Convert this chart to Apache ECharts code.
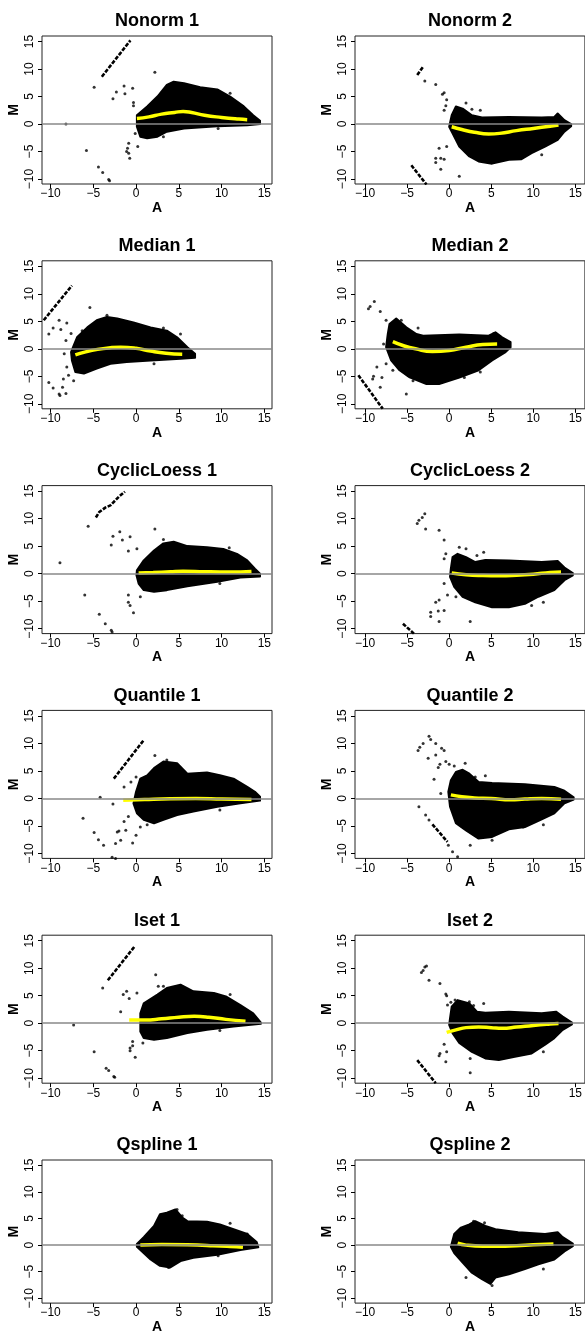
<!DOCTYPE html>
<html>
<head>
<meta charset="utf-8">
<script src="https://cdn.jsdelivr.net/npm/echarts@6/dist/echarts.min.js"></script>
<style>html,body{margin:0;padding:0;background:#fff}#main{width:585px;height:1335px}</style>
</head>
<body>
<div id="main"></div>
<script>
var tickValues = [-10, -5, 0, 5, 10, 15];
var titles = ['Nonorm 1', 'Nonorm 2', 'Median 1', 'Median 2', 'CyclicLoess 1', 'CyclicLoess 2',
    'Quantile 1', 'Quantile 2', 'Iset 1', 'Iset 2', 'Qspline 1', 'Qspline 2'];

// each panel: upper and lower edge of the dense cloud, loose points, streaks of points, loess curve (A, M)
var nonorm1Top = [[0.1,1.6],[1.3,3.2],[2.5,5.0],[3.6,7.1],[4.4,7.7],[5.6,7.4],[7.5,6.7],[9.5,6.3],[11.0,5.0],[12.6,3.2],[13.7,1.6],[14.5,0.6]];
var nonorm1Bottom = [[14.5,0],[13,-0.2],[9.5,-0.4],[5.6,-0.8],[3.6,-1.4],[2.5,-2.3],[1.3,-2.6],[0.5,-2.3],[0.1,-0.5]];
var nonorm1Dots = [[-8.2,0],[-4.9,6.7],[-5.8,-4.8],[-4.4,-7.8],[-3.9,-8.8],[-3.2,-10.1],[-3.1,-10.3],[-2.7,4.6],[-2.3,5.8],[-1.4,6.9],[-1.3,5.5],[-0.4,6.5],[-0.86,-3.5],[-1.0,-4.4],[-1.1,-5.0],[-0.86,-5.3],[-0.74,-6.2],[-0.3,3.9],[-0.3,3.3],[2.2,9.4],[-0.1,-1.7],[0.2,-4.1],[3.2,-2.3],[9.6,-0.8],[11.0,5.6]];
var nonorm1Streaks = [[[-4.0,8.6],[-0.66,15.2]]];
var nonorm1Loess = [[0.1,1.0],[1.5,1.3],[3,1.8],[4.5,2.1],[5.5,2.3],[6.5,2.1],[8,1.6],[10,1.2],[12,0.9],[13,0.8]];

var nonorm2Top = [[0.3,1.6],[0.8,3.2],[1.6,2.8],[2.7,1.6],[3.9,1.2],[7.1,1.3],[11,1.2],[12.5,1.3],[12.9,1.9],[13.7,0.7],[14.5,0]];
var nonorm2Bottom = [[14.5,-0.4],[13.7,-1.4],[12.9,-2.9],[11.4,-4.1],[9.8,-5.3],[8.6,-6.4],[7.1,-6.5],[5.1,-7.2],[3.5,-6.8],[2.4,-5.9],[1.2,-4.1],[0.4,-1.7],[0,-0.5]];
var nonorm2Dots = [[-2.9,7.8],[-1.6,7.2],[-0.8,5.4],[-0.6,5.7],[-0.4,3.3],[-0.6,2.5],[-0.3,4.4],[-1.2,-4.4],[-1.0,-6.2],[-0.6,-6.4],[-1.6,-6.2],[-1.6,-7.0],[-1.0,-8.2],[1.2,-9.5],[-0.3,-4.1],[2.0,3.8],[2.7,2.7],[3.7,2.5],[7.3,-5.3],[11,-5.6],[14.1,-0.6]];
var nonorm2Streaks = [[[-3.8,8.9],[-3.1,10.4]], [[-4.5,-7.5],[-2.7,-11]]];
var nonorm2Loess = [[0.3,-0.5],[1.5,-1.0],[3,-1.5],[4.7,-1.8],[6,-1.7],[8,-1.2],[10,-0.8],[12,-0.4],[13,-0.2]];

var median1Top = [[-7.3,0.6],[-6.9,2.1],[-5.7,3.9],[-4.6,5.2],[-3.4,5.8],[-2.2,5.5],[-0.3,4.8],[1.7,3.9],[3.6,3.3],[4.8,2.1],[6.0,0.3],[6.9,-0.9]];
var median1Bottom = [[6.9,-1.6],[5.2,-1.8],[1.7,-2.1],[-1.1,-2.4],[-3.0,-2.7],[-4.6,-3.6],[-6.1,-4.5],[-7.1,-4.2],[-7.5,-2.1],[-7.6,-0.6]];
var median1Dots = [[-10.2,2.7],[-9.7,3.8],[-9.0,5.2],[-8.8,3.5],[-8.1,4.7],[-7.6,2.8],[-8.2,1.5],[-10.2,-6.1],[-9.7,-7.1],[-9.0,-8.2],[-8.9,-8.5],[-8.6,-7.0],[-8.5,-5.5],[-8.2,-8.1],[-8.4,-0.9],[-8.1,-3.3],[-7.9,-4.8],[-7.3,-5.8],[-5.4,7.5],[-6.3,3.3],[-3.4,6.1],[3.2,3.8],[2.1,-2.7],[5.2,2.7]];
var median1Streaks = [[[-10.8,5.2],[-7.5,11.5]]];
var median1Loess = [[-7.1,-1.1],[-6,-0.6],[-4.5,-0.1],[-3,0.2],[-1.8,0.3],[0,0.1],[1.7,-0.4],[3.5,-0.8],[5.4,-1.0]];

var median2Top = [[-7.3,2.7],[-7.1,4.5],[-6.3,5.5],[-5.1,3.9],[-3.9,2.7],[-3.1,2.4],[1.2,2.6],[4.7,2.4],[5.5,3.0],[6.3,2.1],[7.3,1.2]];
var median2Bottom = [[7.3,0.3],[6.7,-0.6],[5.1,-2.1],[3.5,-3.9],[1.2,-5.2],[-1.2,-6.4],[-2.7,-6.4],[-4.7,-5.2],[-5.9,-3.9],[-6.9,-2.1],[-7.5,0.3]];
var median2Dots = [[-9.6,7.3],[-9.4,7.7],[-8.9,8.6],[-8.2,6.8],[-7.5,5.2],[-7.8,0.9],[-9.0,-5.0],[-9.1,-5.5],[-8.0,-5.2],[-8.2,-7.0],[-8.6,-3.3],[-7.5,-2.7],[-6.7,-3.9],[-5.1,-8.2],[-5.7,5.2],[-3.7,3.8],[3.7,-4.2],[5.3,2.8],[1.8,-5.2],[-4.3,-5.8]];
var median2Streaks = [[[-10.8,-4.8],[-7.9,-10.9]]];
var median2Loess = [[-6.7,1.3],[-5.5,0.6],[-4,0],[-2,-0.5],[0,-0.3],[2,0.3],[4,0.8],[5.7,0.9]];

var cyclic1Top = [[0.1,0.6],[0.9,2.4],[2.1,4.2],[3.2,5.5],[4.4,5.8],[6.0,5.0],[8.3,4.8],[10.2,4.5],[11.8,3.6],[13.0,2.4],[13.9,0.9],[14.5,0]];
var cyclic1Bottom = [[14.5,-0.5],[12.2,-0.7],[9.5,-1.5],[6.0,-2.3],[3.6,-3.0],[2.1,-3.3],[0.9,-3.0],[0.3,-1.8],[0.05,-0.3]];
var cyclic1Dots = [[-8.9,2],[-6,-3.9],[-5.6,8.6],[-4.3,-7.4],[-3.6,-9.1],[-2.9,-10.3],[-2.8,-10.6],[-2.7,6.8],[-2.9,5.2],[-1.9,7.6],[-1.6,6.1],[-0.7,6.7],[-0.9,4.1],[-0.9,-3.9],[-0.9,-5.2],[-0.7,-5.8],[-0.3,-7.1],[0.1,4.5],[2.2,8.1],[3.2,6.2],[0.5,-4.2],[9.8,-1.8],[10.9,4.7]];
var cyclic1Streaks = [[[-4.7,10.2],[-4.3,11.2],[-3.6,12],[-3,12.4],[-2,14],[-1.3,14.9]]];
var cyclic1Loess = [[0.3,0.1],[2,0.2],[4,0.35],[5.5,0.45],[8,0.35],[11,0.3],[13.5,0.4]];

var cyclic2Top = [[0.2,0.9],[0.4,3.0],[1.0,3.6],[2.0,3.0],[3.1,2.1],[4.3,2.5],[7.1,2.4],[11,2.1],[12.9,2.3],[13.7,1.1],[14.7,0.1]];
var cyclic2Bottom = [[14.7,-0.3],[13.7,-1.2],[12.5,-3.0],[10.6,-4.2],[9.0,-5.5],[7.1,-6.1],[5.1,-6.1],[3.1,-5.2],[1.6,-4.2],[0.6,-2.4],[0.1,-0.6]];
var cyclic2Dots = [[-3.8,9.1],[-3.6,9.7],[-3.2,10.2],[-2.9,10.9],[-2.8,8.1],[-1.2,7.9],[-0.6,6.1],[-0.4,3.6],[-0.6,2.7],[1.2,4.8],[2,4.5],[3.3,3.3],[4.1,3.9],[-0.6,-1.8],[-1.2,-4.8],[-1.6,-5.2],[-2.2,-7],[-2.2,-7.8],[-1.3,-6.8],[-1.2,-8.7],[-0.6,-6.7],[2.5,-8.7],[9.8,-5.8],[11.2,-5.2],[-0.2,-3.9],[0.8,-4.2]];
var cyclic2Streaks = [[[-5.5,-9.1],[-4.2,-10.9]]];
var cyclic2Loess = [[0.3,0.1],[2,-0.2],[4,-0.35],[6,-0.4],[8,-0.3],[10,-0.1],[12,0.2],[13.3,0.3]];

var quantile1Top = [[0,1.2],[0.5,3.6],[1.3,4.2],[2.1,5.5],[3.2,6.7],[4.8,6.4],[6.0,4.5],[8.3,4.7],[9.8,4.2],[11.4,3.6],[13.0,2.1],[13.9,1.2],[14.5,0.3]];
var quantile1Bottom = [[14.5,-0.4],[12.2,-0.9],[9.5,-1.5],[6.7,-2.4],[4.8,-3.0],[3.2,-3.9],[2.1,-4.5],[0.9,-3.9],[0.1,-2.7],[-0.3,-0.9]];
var quantile1Dots = [[-6.2,-3.6],[-4.9,-6.2],[-4.4,-7.5],[-4.2,0.2],[-3.8,-8.5],[-2.8,-10.7],[-2.4,-10.9],[-2.7,-1],[-2.4,-8.2],[-2.2,-6.1],[-2,-5.9],[-1.8,-7.6],[-1.4,-4.2],[-1.4,2.1],[-1.2,-5.8],[-0.9,-3.3],[-0.4,-8.1],[0,-6.7],[-0.6,3],[0,3.9],[2.2,7.8],[3.6,7],[9.8,-2.1],[13,1.5],[0.5,-5.2],[1.3,-4.8]];
var quantile1Streaks = [[[-2.6,3.6],[0.9,10.6]]];
var quantile1Loess = [[-1.5,-0.35],[1,-0.2],[4,-0.05],[7,0],[10,-0.1],[13.5,-0.2]];

var quantile2Top = [[-0.1,1.2],[0.2,3.3],[0.8,4.8],[1.6,5.2],[2.4,4.5],[3.5,3.0],[5.1,2.8],[9.0,2.6],[12.5,2.1],[13.7,1.4],[14.8,0.2]];
var quantile2Bottom = [[14.8,-0.2],[13.7,-0.9],[12.5,-2.7],[11,-3.8],[9.0,-5.2],[7.1,-5.6],[5.1,-7.0],[3.5,-7.3],[2.0,-5.8],[0.8,-4.5],[0.1,-1.5]];
var quantile2Dots = [[-3.7,8.7],[-3.5,9.3],[-3.1,10],[-2.4,11.3],[-2.2,10.7],[-1.6,10],[-2.5,7.3],[-1.6,7.9],[-0.9,9.1],[-0.6,8.7],[-1.8,3.5],[-1.3,5.6],[-1.1,6.2],[-0.4,6.7],[0,6.2],[0.6,5.9],[1.9,6.4],[3.1,3.9],[4.3,4.1],[-1,0.9],[-3.6,-1.5],[-2.8,-3],[-2.4,-3.9],[2.5,-8.5],[5.1,-7.6],[11.2,-4.8],[8.8,-5.2],[-0.1,-8.5],[0.4,-9.7],[1.0,-10.6]];
var quantile2Streaks = [[[-2,-4.7],[-0.2,-7.9]]];
var quantile2Loess = [[0.2,0.65],[1.5,0.3],[3,0.1],[5,0],[7.3,-0.25],[9,-0.1],[11,0],[13.3,-0.15]];

var iset1Top = [[0.5,1.8],[0.9,3.6],[2.5,5.2],[3.6,6.4],[5.2,7.0],[6.7,5.8],[9.1,5.5],[10.6,4.8],[12.2,3.3],[13.7,1.8],[14.6,0.1]];
var iset1Bottom = [[14.6,-0.1],[11.4,-0.6],[8.3,-1.2],[6.0,-1.8],[3.6,-2.7],[2.1,-3.0],[0.9,-2.7],[0.5,-1.5]];
var iset1Dots = [[-7.3,-0.3],[-4.9,-5.2],[-3.9,6.4],[-3.5,-8.2],[-3.2,-8.6],[-2.6,-9.7],[-2.5,-9.8],[-1.8,2.1],[-1.5,5.2],[-1.1,5.8],[-0.8,4.5],[0.1,5.5],[-0.7,-4.5],[-0.7,-5],[-0.4,-3.3],[-0.4,-4.1],[-0.1,-6.2],[0.8,-3.6],[2.3,8.8],[3.2,6.7],[2.6,6.7],[9.8,-1.3],[11,5.2]];
var iset1Streaks = [[[-3.3,7.8],[-0.2,13.9]]];
var iset1Loess = [[-0.8,0.6],[1,0.6],[3,0.8],[5,1.1],[6.8,1.25],[8.5,1.1],[10.5,0.7],[12.8,0.35]];

var iset2Top = [[0.1,0.9],[0.3,3.0],[1.0,4.2],[2.4,3.6],[3.3,2.1],[4.3,1.9],[7.1,2.1],[11,1.8],[12.7,2.1],[13.5,1.2],[14.6,0.1]];
var iset2Bottom = [[14.6,-0.2],[13.5,-1.2],[12.5,-2.7],[11.4,-3.9],[9.8,-5.5],[7.8,-6.1],[5.9,-6.7],[4.3,-6.4],[2.7,-5.2],[1.2,-3.6],[0.4,-1.8],[0,-0.3]];
var iset2Dots = [[-3.3,9.2],[-3.1,9.6],[-2.9,10.2],[-2.7,10.4],[-2.4,7.8],[-1.1,7.2],[-0.4,5.3],[-0.3,5],[-0.2,3.3],[0.2,3.8],[0.7,4.2],[2.4,3.9],[2.9,3.2],[4.1,3.6],[-0.6,-3.8],[-0.3,-5.2],[-0.4,-7],[-1.1,-5.5],[-1.2,-5.9],[2.5,-9],[2.5,-6.4],[11.2,-5.2],[8.8,-5.6]];
var iset2Streaks = [[[-3.8,-6.7],[-1.6,-10.9]]];
var iset2Loess = [[-0.3,-1.65],[0.8,-1.2],[2,-0.8],[3.5,-0.7],[5,-0.8],[6.3,-0.9],[8,-0.7],[10,-0.4],[12,-0.15],[13,-0.05]];

var qspline1Top = [[0.1,0.2],[0.9,1.5],[2.1,3.6],[2.8,5.8],[3.6,6.1],[4.6,6.7],[5.4,5.2],[6.0,4.5],[8.3,4.4],[9.8,3.9],[11.4,3.0],[13.0,2.1],[14.1,0.6]];
var qspline1Bottom = [[14.3,-0.4],[12.2,-0.9],[9.5,-1.8],[6.7,-2.4],[5.2,-3.0],[4.0,-4.2],[2.8,-3.9],[1.7,-2.7],[0.7,-1.2],[0.1,-0.3]];
var qspline1Dots = [[5.4,5.5],[5.6,4.7],[4.8,6.7],[4,6.1],[9.6,-2],[11,4.1],[13,2.1],[3.8,-4.2]];
var qspline1Streaks = [];
var qspline1Loess = [[0.5,0],[3,0.1],[6,0.05],[9,-0.1],[11,-0.25],[12.5,-0.4]];

var qspline2Top = [[0.3,0.3],[0.6,2.1],[1.4,3.3],[2.4,3.9],[3.1,4.5],[4.3,3.6],[5.5,3.0],[8.2,2.4],[11.4,2.1],[12.9,2.4],[13.5,1.5],[14.7,0.3]];
var qspline2Bottom = [[14.7,-0.2],[13.7,-1.2],[12.5,-2.7],[10.6,-3.6],[9.0,-4.5],[7.1,-5.5],[5.5,-6.1],[4.9,-7.3],[3.9,-6.4],[2.7,-5.2],[1.6,-3.3],[0.6,-1.5],[0.2,-0.3]];
var qspline2Dots = [[2.9,4.5],[4.2,4.2],[5.1,-7.6],[11.2,-4.5],[2,-6.1]];
var qspline2Streaks = [];
var qspline2Loess = [[1,0.35],[2,0],[4,-0.2],[6,-0.2],[8,-0.1],[10,0.05],[12.4,0.2]];

var panels = [
    [nonorm1Top, nonorm1Bottom, nonorm1Dots, nonorm1Streaks, nonorm1Loess],
    [nonorm2Top, nonorm2Bottom, nonorm2Dots, nonorm2Streaks, nonorm2Loess],
    [median1Top, median1Bottom, median1Dots, median1Streaks, median1Loess],
    [median2Top, median2Bottom, median2Dots, median2Streaks, median2Loess],
    [cyclic1Top, cyclic1Bottom, cyclic1Dots, cyclic1Streaks, cyclic1Loess],
    [cyclic2Top, cyclic2Bottom, cyclic2Dots, cyclic2Streaks, cyclic2Loess],
    [quantile1Top, quantile1Bottom, quantile1Dots, quantile1Streaks, quantile1Loess],
    [quantile2Top, quantile2Bottom, quantile2Dots, quantile2Streaks, quantile2Loess],
    [iset1Top, iset1Bottom, iset1Dots, iset1Streaks, iset1Loess],
    [iset2Top, iset2Bottom, iset2Dots, iset2Streaks, iset2Loess],
    [qspline1Top, qspline1Bottom, qspline1Dots, qspline1Streaks, qspline1Loess],
    [qspline2Top, qspline2Bottom, qspline2Dots, qspline2Streaks, qspline2Loess]
];

var chartDom = document.getElementById('main');
var myChart = echarts.init(chartDom);

var colLeft = [42, 355];
var colWidth = [230, 232];
var xRange = [[-11, 15.9], [-11.2, 16.14]];
var yRange = [-10.9, 16];
var H = 148, TOP0 = 36, ROW = 224.8;

function minus(v) { return String(v).replace('-', '\u2212'); }

function cloudRenderer(pts) {
    return function (params, api) {
        if (params.dataIndex !== 0) return null;
        return {
            type: 'polygon',
            shape: { points: pts.map(function (p) { return api.coord(p); }) },
            style: { fill: '#000', stroke: '#000', lineWidth: 2, lineJoin: 'round' }
        };
    };
}

var grids = [], xAxes = [], yAxes = [], titleList = [], series = [];
panels.forEach(function (p, i) {
    var col = i % 2, row = Math.floor(i / 2);
    var left = colLeft[col], top = TOP0 + ROW * row, W = colWidth[col];
    grids.push({ left: left, top: top, width: W, height: H, show: true, borderColor: '#222', borderWidth: 1, containLabel: false });
    titleList.push({
        text: titles[i], left: left + 115, top: top - 23.5, textAlign: 'center', padding: 0,
        textStyle: { fontSize: 18, fontWeight: 'bold', color: '#000' }
    });
    xAxes.push({
        gridIndex: i, type: 'value', min: xRange[col][0], max: xRange[col][1], position: 'bottom',
        axisLine: { show: false, onZero: false }, splitLine: { show: false },
        axisTick: { show: true, customValues: tickValues, length: 4, lineStyle: { color: '#000' } },
        axisLabel: { customValues: tickValues, margin: 4, fontSize: 12, color: '#000', formatter: minus },
        name: 'A', nameLocation: 'middle', nameGap: 15,
        nameTextStyle: { fontSize: 14, fontWeight: 'bold', color: '#000' }
    });
    yAxes.push({
        gridIndex: i, type: 'value', min: yRange[0], max: yRange[1], position: 'left',
        axisLine: { show: false, onZero: false }, splitLine: { show: false },
        axisTick: { show: true, customValues: tickValues, length: 4, lineStyle: { color: '#000' } },
        axisLabel: { customValues: tickValues, rotate: 90, margin: 6, fontSize: 12, color: '#000', formatter: minus },
        name: 'M', nameLocation: 'middle', nameGap: 21, nameRotate: 90,
        nameTextStyle: { fontSize: 14, fontWeight: 'bold', color: '#000' }
    });

    var cloud = p[0].concat(p[1]);
    series.push({
        type: 'custom', xAxisIndex: i, yAxisIndex: i, z: 2, silent: true,
        data: cloud, renderItem: cloudRenderer(cloud)
    });
    series.push({
        type: 'scatter', xAxisIndex: i, yAxisIndex: i, z: 2, silent: true,
        symbolSize: 3, itemStyle: { color: '#000' }, data: p[2],
        markLine: {
            silent: true, symbol: 'none', label: { show: false },
            lineStyle: { color: '#888', width: 1.5, type: 'solid' },
            data: [{ yAxis: 0 }]
        }
    });
    p[3].forEach(function (s) {
        series.push({
            type: 'line', xAxisIndex: i, yAxisIndex: i, z: 2, silent: true, showSymbol: false,
            lineStyle: { color: '#000', width: 2.6, type: [4, 1.5] }, data: s
        });
    });
    series.push({
        type: 'line', xAxisIndex: i, yAxisIndex: i, z: 4, silent: true, showSymbol: false, smooth: true,
        lineStyle: { color: '#ffff00', width: 3.5 }, data: p[4]
    });
});

var option = {
    animation: false,
    backgroundColor: '#fff',
    textStyle: { fontFamily: 'Liberation Sans, Arial, sans-serif' },
    title: titleList,
    grid: grids,
    xAxis: xAxes,
    yAxis: yAxes,
    series: series
};

option && myChart.setOption(option);
</script>
</body>
</html>
